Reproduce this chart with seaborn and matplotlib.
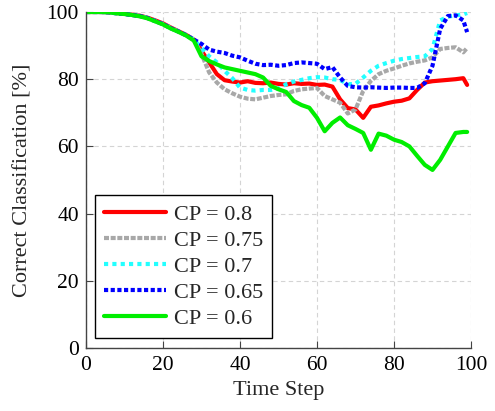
import matplotlib
matplotlib.use("Agg")
import matplotlib.pyplot as plt
import seaborn as sns
import pandas as pd

steps = [0, 2, 4, 6, 8, 10, 12, 14, 16, 18, 20, 22, 24, 26, 28, 30, 32, 34, 36, 38,
         40, 42, 44, 46, 48, 50, 52, 54, 56, 58, 60, 62, 64, 66, 68, 70, 72, 74, 76, 78,
         80, 82, 84, 86, 88, 90, 92, 94, 96, 98, 99]

cp_080 = [100, 100, 100, 99.9, 99.7, 99.5, 99.2, 98.9, 98.3, 97.5, 96.6, 95.4, 94.3, 93.2, 91.8,
          88.5, 85.0, 81.5, 79.7, 79.3, 79.0, 79.4, 78.9, 78.8, 79.0, 78.6, 78.4, 78.8, 78.6, 78.7,
          78.3, 78.4, 77.8, 74.0, 71.4, 71.0, 68.5, 71.8, 72.2, 72.8, 73.3, 73.6, 74.3, 76.8, 79.0,
          79.4, 79.6, 79.8, 80.0, 80.3, 78.3]

cp_075 = [100, 100, 100, 99.9, 99.6, 99.4, 99.1, 98.8, 98.2, 97.3, 96.4, 95.2, 94.2, 93.1, 91.8,
          87.5, 82.0, 79.0, 77.0, 75.8, 74.8, 74.2, 74.0, 74.5, 75.0, 75.3, 75.5, 76.5, 77.0, 77.2,
          77.4, 75.0, 74.0, 73.0, 69.8, 71.0, 76.5, 79.5, 81.5, 82.5, 83.2, 84.0, 84.7, 85.2, 85.6,
          86.5, 89.0, 89.3, 89.5, 88.0, 89.3]

cp_070 = [100, 100, 100, 99.9, 99.6, 99.4, 99.1, 98.8, 98.2, 97.3, 96.4, 95.2, 94.2, 93.1, 91.8,
          89.3, 86.8, 85.0, 82.5, 80.3, 77.5, 76.8, 76.6, 76.8, 76.8, 77.2, 78.5, 79.3, 79.8, 80.3,
          80.6, 80.5, 80.0, 79.8, 78.5, 78.6, 80.5, 82.5, 84.0, 84.8, 85.5, 86.0, 86.3, 86.6, 86.8,
          89.0, 97.5, 98.6, 99.0, 99.3, 99.7]

cp_065 = [100, 100, 100, 99.9, 99.6, 99.4, 99.1, 98.8, 98.2, 97.3, 96.4, 95.2, 94.2, 93.1, 91.8,
          90.5, 88.8, 88.2, 87.8, 87.0, 86.5, 85.5, 84.6, 84.2, 84.3, 84.0, 84.2, 84.8, 85.0, 84.8,
          84.6, 83.0, 83.6, 80.5, 78.0, 77.6, 77.5, 77.6, 77.5, 77.4, 77.5, 77.5, 77.4, 77.4, 78.8,
          84.0, 95.0, 98.8, 99.0, 97.5, 94.0]

cp_060 = [100, 100, 100, 99.9, 99.6, 99.4, 99.1, 98.7, 98.1, 97.2, 96.3, 95.1, 94.1, 93.0, 91.5,
          86.8, 85.4, 84.4, 83.5, 83.0, 82.5, 82.0, 81.5, 80.5, 78.0, 77.0, 76.2, 73.5, 72.3, 71.5,
          68.5, 64.5, 67.0, 68.6, 66.3, 65.2, 64.0, 59.0, 63.8, 63.2, 62.0, 61.3, 60.0, 57.2, 54.5,
          53.0, 56.0, 60.0, 64.0, 64.3, 64.3]

labels = ["CP = 0.8", "CP = 0.75", "CP = 0.7", "CP = 0.65", "CP = 0.6"]
series = [cp_080, cp_075, cp_070, cp_065, cp_060]
colors = ["#ff0000", "#a8a8a8", "#22ffff", "#0000ff", "#00ee00"]
styles = ["-", (0, (1.2, 0.4)), (0, (1.0, 1.0)), (0, (1.0, 0.6)), "-"]
widths = [3.0, 3.0, 3.0, 3.0, 3.0]

sns.set_style("ticks")
plt.rcParams["font.family"] = ["Liberation Serif", "DejaVu Serif"]
plt.rcParams["mathtext.fontset"] = "stix"

fig = plt.figure(figsize=(4.95, 4.11), dpi=100)
ax = fig.add_axes([0.1737, 0.1533, 0.7778, 0.8175])

for lab, vals, c, ls, lw in zip(labels, series, colors, styles, widths):
    df = pd.DataFrame({"step": steps, "value": vals})
    sns.lineplot(data=df, x="step", y="value", ax=ax, color=c, linestyle=ls,
                 linewidth=lw, label=lab)

ax.set_xlim(0, 100)
ax.set_ylim(0, 100)
ax.set_xticks([0, 20, 40, 60, 80, 100])
ax.set_yticks([0, 20, 40, 60, 80, 100])
ax.grid(True, linestyle=(0, (4, 3)), color="#d4d4d4", linewidth=0.8)
ax.set_axisbelow(True)
for s in ["top", "right"]:
    ax.spines[s].set_visible(False)
for s in ["left", "bottom"]:
    ax.spines[s].set_color("#444444")
    ax.spines[s].set_linewidth(1.0)
ax.tick_params(direction="in", length=5, width=0.8, color="#444444",
               labelsize=15.5, labelcolor="black")
ax.tick_params(axis="x", pad=6)
ax.tick_params(axis="y", pad=5)
ax.set_xlabel("Time Step", fontsize=16, labelpad=4)
ax.set_ylabel("Correct Classification [%]", fontsize=16, labelpad=10)

leg = ax.legend(loc="lower left", bbox_to_anchor=(0.023, 0.03), borderaxespad=0,
                fontsize=16, frameon=True, fancybox=False, framealpha=1,
                edgecolor="black", handlelength=2.8, handletextpad=0.35,
                labelspacing=0.25, borderpad=0.4)
leg.get_frame().set_linewidth(1.0)

fig.savefig("out.png", dpi=100)
